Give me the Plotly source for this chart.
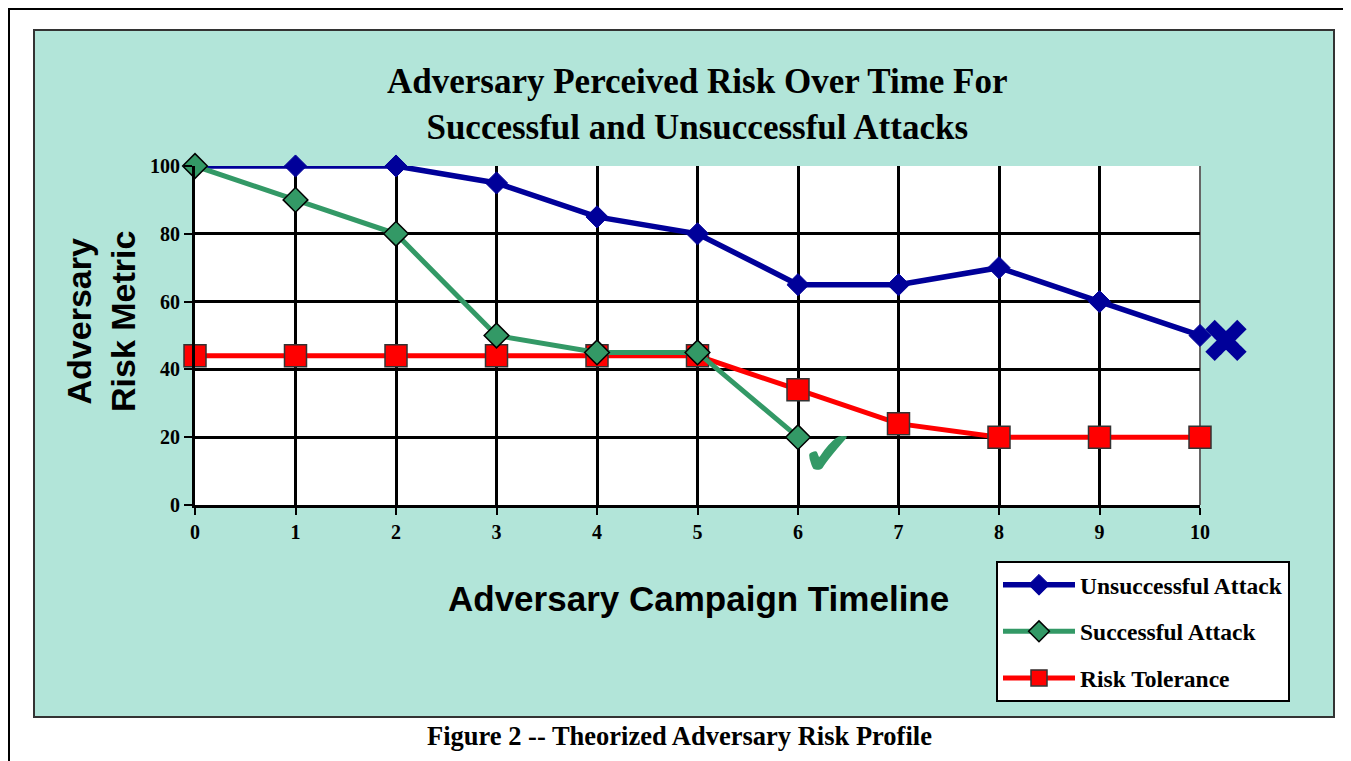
import plotly.graph_objects as go

timeline = list(range(11))
unsuccessful = [100, 100, 100, 95, 85, 80, 65, 65, 70, 60, 50]
successful_x = [0, 1, 2, 3, 4, 5, 6]
successful = [100, 90, 80, 50, 45, 45, 20]
risk_tolerance = [44, 44, 44, 44, 44, 44, 34, 24, 20, 20, 20]
x_ticks = list(range(11))
y_ticks = [0, 20, 40, 60, 80, 100]

W, H = 1351, 761
OFF = 8  # page body margin offset
L, R, T, B = 195, 1200, 166, 505  # target plot area pixel bounds (screen)


def px(X):
    return (X - L) / (R - L)


def py(Y):
    return (B - Y) / (B - T)


serif = "Liberation Serif, Times New Roman, serif"
sans = "Liberation Sans, Arial, sans-serif"

fig = go.Figure()

fig.add_trace(go.Scatter(
    x=timeline, y=risk_tolerance, name="Risk Tolerance", mode="lines+markers",
    line=dict(color="#FF0000", width=5),
    marker=dict(symbol="square", size=22, color="#FF0000", line=dict(color="#333333", width=1.5)),
    legendrank=3, legendgroup="c", cliponaxis=False))
fig.add_trace(go.Scatter(
    x=timeline, y=unsuccessful, name="Unsuccessful Attack", mode="lines+markers",
    line=dict(color="#000099", width=5.5),
    marker=dict(symbol="diamond", size=17, color="#000099", line=dict(color="#000099", width=1)),
    legendrank=1, legendgroup="a", cliponaxis=False))
fig.add_trace(go.Scatter(
    x=successful_x, y=successful, name="Successful Attack", mode="lines+markers",
    line=dict(color="#339966", width=5),
    marker=dict(symbol="diamond", size=19, color="#339966", line=dict(color="#000000", width=1.5)),
    legendrank=2, legendgroup="b", cliponaxis=False))

shapes = [
    dict(type="rect", xref="paper", yref="paper", x0=px(9), x1=px(1345), y0=py(775), y1=py(9),
         line=dict(color="black", width=2), fillcolor="rgba(0,0,0,0)", layer="below"),
    dict(type="rect", xref="paper", yref="paper", x0=px(34), x1=px(1334), y0=py(717), y1=py(30),
         line=dict(color="#333333", width=2), fillcolor="#B2E5D9", layer="below"),
    dict(type="rect", xref="paper", yref="paper", x0=0, x1=1, y0=0, y1=1,
         line=dict(width=0), fillcolor="white", layer="below"),
    dict(type="line", xref="paper", yref="paper", x0=1, x1=1, y0=0, y1=1,
         line=dict(color="#666666", width=2), layer="below"),
]

annotations = [
    dict(text="Adversary Perceived Risk Over Time For<br>Successful and Unsuccessful Attacks",
         xref="paper", yref="paper", x=px(697), y=py(104), xanchor="center", yanchor="middle",
         showarrow=False, font=dict(family=serif, size=35, color="black", weight="bold")),
    dict(text="Adversary<br>Risk Metric", textangle=-90,
         xref="paper", yref="paper", x=px(101), y=py(322), xanchor="center", yanchor="middle",
         showarrow=False, font=dict(family=sans, size=34, color="black", weight="bold")),
    dict(text="Adversary Campaign Timeline",
         xref="paper", yref="paper", x=px(698), y=py(598), xanchor="center", yanchor="middle",
         showarrow=False, font=dict(family=sans, size=35, color="black", weight="bold")),
    dict(text="Figure 2 -- Theorized Adversary Risk Profile",
         xref="paper", yref="paper", x=px(679), y=py(736), xanchor="center", yanchor="middle",
         showarrow=False, font=dict(family=serif, size=26.5, color="black", weight="bold")),
    dict(text="\u2716", xref="paper", yref="paper", x=px(1226), y=py(341), xanchor="center", yanchor="middle",
         showarrow=False, font=dict(family="DejaVu Sans", size=62, color="#000099")),
    dict(text="\u2714", xref="paper", yref="paper", x=px(828), y=py(453), xanchor="center", yanchor="middle",
         showarrow=False, font=dict(family="DejaVu Sans", size=62, color="#339966")),
]

fig.update_layout(
    width=W, height=H,
    margin=dict(l=L - OFF, r=W - R + OFF, t=T - OFF, b=H - B + OFF, autoexpand=False),
    paper_bgcolor="white", plot_bgcolor="white",
    shapes=shapes, annotations=annotations,
    showlegend=True,
    legend=dict(x=px(996), y=py(561), xanchor="left", yanchor="top",
                bgcolor="white", bordercolor="black", borderwidth=2,
                font=dict(family=serif, size=23.5, color="black", weight="bold"),
                traceorder="grouped", tracegroupgap=13, itemwidth=72),
    xaxis=dict(range=[0, 10], tickvals=x_ticks, ticktext=[str(v) for v in x_ticks],
               showgrid=True, gridcolor="black", gridwidth=3,
               showline=True, linecolor="black", linewidth=3,
               ticks="outside", ticklen=7, tickwidth=2, tickcolor="black",
               zeroline=False, fixedrange=True,
               tickfont=dict(family=serif, size=20, color="black", weight="bold")),
    yaxis=dict(range=[0, 100], tickvals=y_ticks, ticktext=[str(v) for v in y_ticks],
               showgrid=True, gridcolor="black", gridwidth=3,
               showline=True, linecolor="black", linewidth=3,
               ticks="outside", ticklen=8, tickwidth=2, tickcolor="black",
               zeroline=False, fixedrange=True,
               tickfont=dict(family=serif, size=20, color="black", weight="bold")),
)

fig.write_html("out.html")
